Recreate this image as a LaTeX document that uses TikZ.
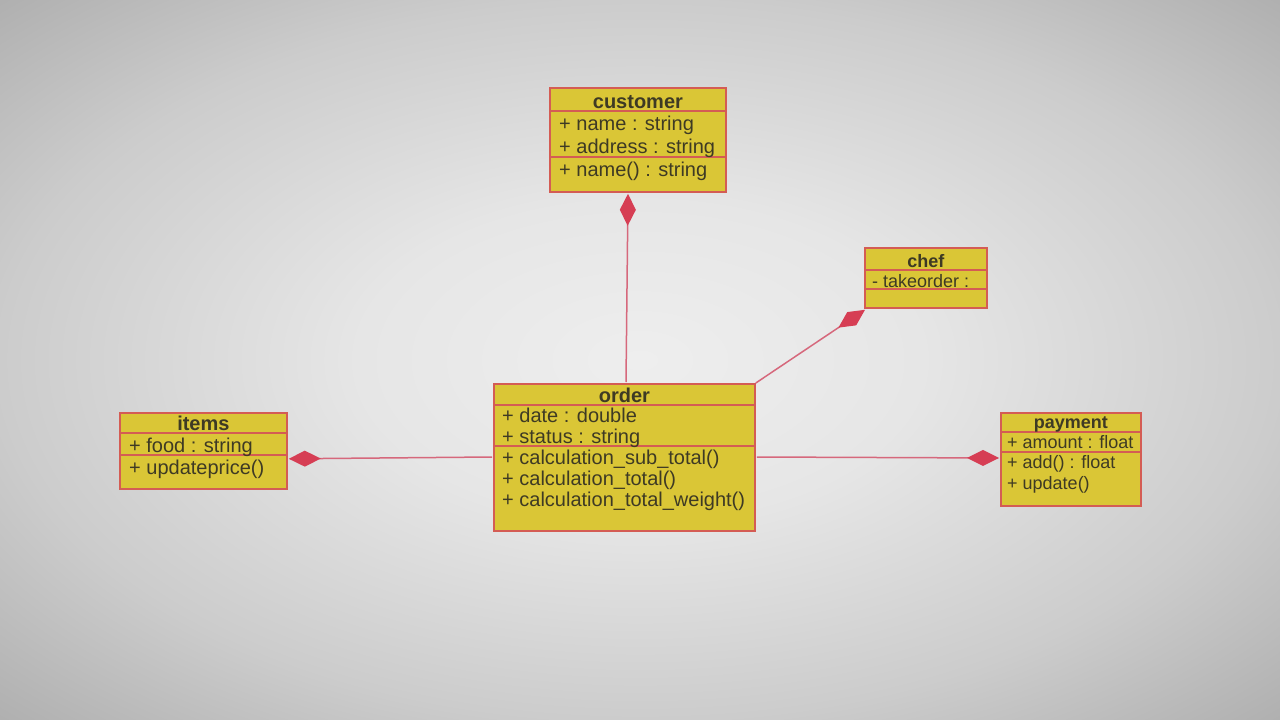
\documentclass[tikz,border=0pt]{standalone}
\usepackage{fontspec}
\setmainfont{Liberation Sans}
\usetikzlibrary{arrows.meta,calc}

\definecolor{boxfill}{RGB}{218,198,54}
\definecolor{boxline}{RGB}{212,92,84}
\definecolor{linkcol}{RGB}{214,104,124}
\definecolor{diacol}{RGB}{214,62,84}
\definecolor{inkcol}{RGB}{62,58,36}
\definecolor{bgA}{RGB}{238,238,238}
\definecolor{bgB}{RGB}{230,230,230}
\definecolor{bgC}{RGB}{204,204,204}
\definecolor{bgD}{RGB}{174,174,174}
\definecolor{bgE}{RGB}{160,160,160}

\pgfdeclareradialshading{screenglow}{\pgfpoint{0bp}{0bp}}{%
  color(0bp)=(bgA); color(11bp)=(bgB); color(25bp)=(bgC); color(36bp)=(bgD); color(50bp)=(bgE)}

\tikzset{
  classbox/.style={draw=boxline, fill=boxfill, line width=1.8pt, inner sep=0pt, anchor=north west},
  sepline/.style={draw=boxline, line width=1.6pt},
  cname/.style={inner sep=0pt, anchor=base, text=inkcol, font=\bfseries},
  member/.style={inner sep=0pt, anchor=base west, text=inkcol},
  big/.style={font=\fontsize{20}{21}\selectfont},
  bigbold/.style={font=\fontsize{20}{21}\selectfont\bfseries},
  small/.style={font=\fontsize{18}{19}\selectfont},
  smallbold/.style={font=\fontsize{18}{19}\selectfont\bfseries},
  comp/.style={draw=linkcol, line width=1.5pt,
    {Diamond[length=32pt,width=16pt,fill=diacol,color=diacol]}-},
}

\begin{document}
\begin{tikzpicture}[x=1pt,y=-1pt]
  % screen background
  \shade[shading=screenglow] (0,0) rectangle (1280,720);
  \useasboundingbox (0,0) rectangle (1280,720);

  % ---- customer ----
  \node[classbox, minimum width=176pt, minimum height=104pt] (customer) at (549,87) {};
  \draw[sepline] ($(customer.north west)+(0,24)$) -- ($(customer.north east)+(0,24)$);
  \draw[sepline] ($(customer.north west)+(0,70)$) -- ($(customer.north east)+(0,70)$);
  \node[cname, bigbold] (customer-t) at ($(customer.north)+(0,21)$) {customer};
  \node[member, big] (customer-a1) at ($(customer.north west)+(10,43)$) {+ name : string};
  \node[member, big] (customer-a2) at ($(customer.north west)+(10,66)$) {+ address : string};
  \node[member, big] (customer-m1) at ($(customer.north west)+(10,89)$) {+ name() : string};

  % ---- chef ----
  \node[classbox, minimum width=122pt, minimum height=60pt] (chef) at (864,247) {};
  \draw[sepline] ($(chef.north west)+(0,23)$) -- ($(chef.north east)+(0,23)$);
  \draw[sepline] ($(chef.north west)+(0,42)$) -- ($(chef.north east)+(0,42)$);
  \node[cname, smallbold] (chef-t) at ($(chef.north)+(0,20)$) {chef};
  \node[member, small] (chef-a1) at ($(chef.north west)+(8,40)$) {- takeorder :};

  % ---- order ----
  \node[classbox, minimum width=261pt, minimum height=147pt] (order) at (493,383) {};
  \draw[sepline] ($(order.north west)+(0,22)$) -- ($(order.north east)+(0,22)$);
  \draw[sepline] ($(order.north west)+(0,63)$) -- ($(order.north east)+(0,63)$);
  \node[cname, bigbold] (order-t) at ($(order.north)+(0,19)$) {order};
  \node[member, big] (order-a1) at ($(order.north west)+(9,39)$) {+ date : double};
  \node[member, big] (order-a2) at ($(order.north west)+(9,60)$) {+ status : string};
  \node[member, big] (order-m1) at ($(order.north west)+(9,81)$) {+ calculation\_sub\_total()};
  \node[member, big] (order-m2) at ($(order.north west)+(9,102)$) {+ calculation\_total()};
  \node[member, big] (order-m3) at ($(order.north west)+(9,123)$) {+ calculation\_total\_weight()};

  % ---- items ----
  \node[classbox, minimum width=167pt, minimum height=76pt] (items) at (119,412) {};
  \draw[sepline] ($(items.north west)+(0,21)$) -- ($(items.north east)+(0,21)$);
  \draw[sepline] ($(items.north west)+(0,43)$) -- ($(items.north east)+(0,43)$);
  \node[cname, bigbold] (items-t) at ($(items.north)+(0,18)$) {items};
  \node[member, big] (items-a1) at ($(items.north west)+(10,40)$) {+ food : string};
  \node[member, big] (items-m1) at ($(items.north west)+(10,62)$) {+ updateprice()};

  % ---- payment ----
  \node[classbox, minimum width=140pt, minimum height=93pt] (payment) at (1000,412) {};
  \draw[sepline] ($(payment.north west)+(0,20)$) -- ($(payment.north east)+(0,20)$);
  \draw[sepline] ($(payment.north west)+(0,40)$) -- ($(payment.north east)+(0,40)$);
  \node[cname, smallbold] (payment-t) at ($(payment.north)+(0,16)$) {payment};
  \node[member, small] (payment-a1) at ($(payment.north west)+(7,36)$) {+ amount : float};
  \node[member, small] (payment-m1) at ($(payment.north west)+(7,56)$) {+ add() : float};
  \node[member, small] (payment-m2) at ($(payment.north west)+(7,77)$) {+ update()};

  % ---- compositions (diamond on the whole side) ----
  \draw[comp] ($(customer.south west)+(79,1)$) -- ($(order.north west)+(133,-1)$);
  \draw[comp] ($(chef.south west)+(1,1)$) -- ($(order.north east)+(0,0)$);
  \draw[comp] ($(items.south east)+(1,-31)$) -- ($(order.north west)+(-1,74)$);
  \draw[comp] ($(payment.north west)+(-1,46)$) -- ($(order.north east)+(1,74)$);
\end{tikzpicture}
\end{document}
